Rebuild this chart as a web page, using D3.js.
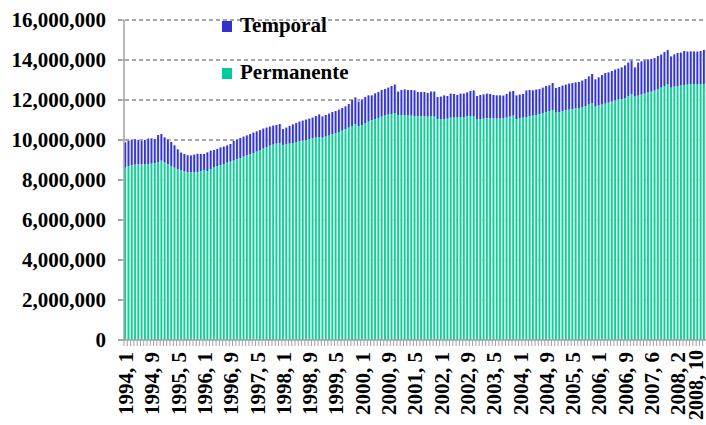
<!DOCTYPE html>
<html><head><meta charset="utf-8">
<script src="https://cdn.jsdelivr.net/npm/d3@7"></script>
<style>
body{margin:0;background:#fff;}
svg{display:block;}
text{font-family:"Liberation Serif","Times New Roman",serif;font-weight:bold;fill:#000;}
</style>
</head><body>
<svg id="chart" width="706" height="425"></svg>
<script>
// ---- DATA (thousands of workers) ----
const skippedMonth = "2007, 4"; // the source series has one month fewer in 2007
const categories = [];
for (let yr = 1994; yr <= 2008; yr++) {
  for (let m = 1; m <= 12; m++) {
    if (yr === 2008 && m > 10) break;
    const c = `${yr}, ${m}`;
    if (c !== skippedMonth) categories.push(c);
  }
}
const tickLabels = ["1994, 1","1994, 9","1995, 5","1996, 1","1996, 9","1997, 5","1998, 1","1998, 9",
  "1999, 5","2000, 1","2000, 9","2001, 5","2002, 1","2002, 9","2003, 5","2004, 1","2004, 9",
  "2005, 5","2006, 1","2006, 9","2007, 6","2008, 2","2008, 10"];
const seriesNames = ["Permanente", "Temporal"];
const permanente = [
  8620,8700,8730,8770,8780,8780,8780,8780,8820,8840,8900,8970,
  8880,8780,8700,8620,8530,8480,8430,8400,8380,8380,8400,8450,
  8500,8450,8550,8630,8700,8750,8800,8870,8920,8970,9030,9100,
  9170,9230,9280,9350,9420,9500,9570,9630,9720,9770,9820,9850,
  9750,9780,9820,9850,9900,9930,9970,10000,10050,10080,10120,10150,
  10120,10170,10220,10280,10330,10400,10470,10550,10620,10700,10800,10700,
  10750,10850,10920,11000,11050,11100,11170,11220,11270,11300,11350,11250,
  11250,11250,11220,11220,11200,11200,11180,11180,11170,11200,11200,11050,
  11050,11050,11070,11120,11120,11150,11150,11150,11180,11200,11200,11050,
  11050,11070,11080,11080,11080,11070,11070,11080,11120,11170,11220,11050,
  11100,11120,11150,11200,11220,11250,11300,11350,11400,11450,11500,11370,
  11400,11450,11480,11520,11550,11580,11600,11630,11700,11770,11830,11670,
  11720,11770,11820,11870,11920,11970,12020,12050,12100,12200,12300,12170,
  12220,12270,12320,12370,12420,12470,12550,12620,12700,12800,12620,
  12670,12700,12720,12750,12770,12800,12800,12780,12800,12800
];
const temporal = [
  1260,1270,1290,1270,1220,1190,1220,1290,1260,1210,1350,1330,
  1250,1250,1200,1110,1000,890,870,840,850,890,910,850,
  800,930,920,870,850,880,870,860,880,980,1000,1000,
  1000,1000,1020,1020,1010,1000,1000,990,950,950,930,950,
  800,840,880,930,950,990,1000,1020,1020,1040,1080,1130,
  1060,1080,1100,1120,1120,1120,1130,1130,1180,1300,1330,1220,
  1280,1300,1310,1230,1280,1300,1330,1330,1350,1400,1420,1170,
  1250,1280,1280,1280,1280,1200,1220,1220,1180,1220,1220,1100,
  1120,1180,1130,1200,1180,1100,1170,1170,1200,1250,1280,1150,
  1200,1210,1240,1220,1170,1160,1160,1140,1180,1250,1230,1180,
  1170,1180,1320,1300,1260,1270,1250,1270,1300,1280,1350,1230,
  1250,1270,1290,1300,1300,1300,1300,1340,1350,1410,1470,1360,
  1410,1480,1530,1510,1530,1550,1550,1580,1630,1670,1670,1460,
  1650,1660,1660,1660,1630,1630,1650,1650,1700,1700,1560,
  1610,1650,1650,1700,1650,1630,1630,1640,1650,1700
];
const yTicks = [0,2000000,4000000,6000000,8000000,10000000,12000000,14000000,16000000];

// ---- CHART ----
const svg = d3.select("#chart");
svg.append("rect").attr("width",706).attr("height",425).attr("fill","#fff");

const table = categories.map((c,i)=>({cat:c, Permanente:permanente[i]*1000, Temporal:temporal[i]*1000}));
const stack = d3.stack().keys(seriesNames)(table);

const x = d3.scaleBand().domain(categories).range([124,706]).paddingInner(0).paddingOuter(0);
const y = d3.scaleLinear().domain([0,16000000]).range([340,20]);
const step = x.bandwidth();

const dark = {Permanente:"#10cc98", Temporal:"#3434cc"};
const light = {Permanente:"#dcf7ee", Temporal:"#dedef7"};
const legendColor = {Permanente:"#00cc99", Temporal:"#3333cc"};

// gridlines
svg.append("g").selectAll("line").data(yTicks.filter(d=>d>0)).join("line")
  .attr("x1",118).attr("x2",706).attr("y1",d=>y(d)).attr("y2",d=>y(d))
  .attr("stroke","#8a8a8a").attr("stroke-width",1.3).attr("stroke-dasharray","4,3");

// bars
const gBars = svg.append("g");
stack.forEach(s=>{
  const g = gBars.append("g");
  g.selectAll("rect.l").data(s).join("rect").attr("class","l")
    .attr("x",d=>x(d.data.cat)).attr("width",step)
    .attr("y",d=>y(d[1])).attr("height",d=>y(d[0])-y(d[1]))
    .attr("fill",light[s.key]);
  g.selectAll("rect.d").data(s).join("rect").attr("class","d")
    .attr("x",d=>x(d.data.cat)+step*0.08).attr("width",step*0.55)
    .attr("y",d=>y(d[1])).attr("height",d=>y(d[0])-y(d[1]))
    .attr("fill",dark[s.key]);
});

// y axis line + ticks
svg.append("line").attr("x1",124).attr("x2",124).attr("y1",y(16000000)).attr("y2",y(0))
  .attr("stroke","#a0a0a0").attr("stroke-width",1.5);
svg.append("g").selectAll("line").data(yTicks).join("line")
  .attr("x1",118).attr("x2",124).attr("y1",d=>y(d)).attr("y2",d=>y(d))
  .attr("stroke","#a0a0a0").attr("stroke-width",1.3);
// x axis line
svg.append("line").attr("x1",118).attr("x2",706).attr("y1",y(0)).attr("y2",y(0))
  .attr("stroke","#a0a0a0").attr("stroke-width",1.5);
// minor ticks at each category boundary
svg.append("g").selectAll("line").data(categories).join("line")
  .attr("x1",d=>x(d)).attr("x2",d=>x(d)).attr("y1",y(0)).attr("y2",y(0)+6)
  .attr("stroke","#a0a0a0").attr("stroke-width",1);

// y labels
const fmt = d3.format(",");
svg.append("g").selectAll("text").data(yTicks).join("text")
  .attr("x",106).attr("y",d=>y(d)).attr("dy","0.35em")
  .attr("text-anchor","end").style("font-size","21px")
  .text(d=>fmt(d));

// x labels (the last one is nudged inward so it stays inside the picture)
const lastIdx = tickLabels.length-1;
svg.append("g").selectAll("text").data(tickLabels).join("text")
  .attr("transform",(d,i)=>{
    const cx = Math.min(x(d)+step/2, 696);
    const yy = (i===lastIdx) ? 350 : 352;
    return `translate(${cx},${yy}) rotate(-90)`;
  })
  .attr("dy","0.35em").attr("text-anchor","end")
  .style("font-size",(d,i)=> i===lastIdx ? "20px" : "21px")
  .text(d=>d);

// legend
const legend = [{k:"Temporal", yy:21},{k:"Permanente", yy:68}];
const lg = svg.append("g");
legend.forEach(l=>{
  lg.append("rect").attr("x",222).attr("y",l.yy).attr("width",10).attr("height",11).attr("fill",legendColor[l.k]);
  lg.append("text").attr("x",240).attr("y",l.yy+11).style("font-size","21px").text(l.k);
});
</script>
</body></html>
